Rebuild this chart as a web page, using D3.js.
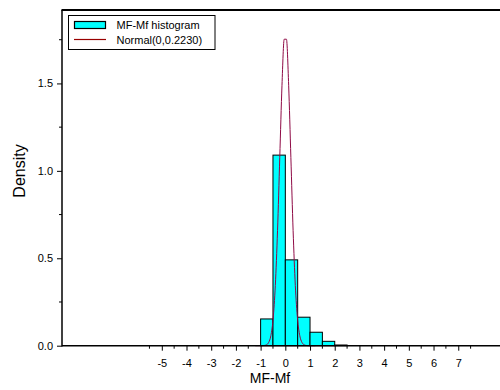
<!DOCTYPE html>
<html><head><meta charset="utf-8">
<script src="https://cdn.jsdelivr.net/npm/d3@7"></script>
<style>body{margin:0;background:#fff}svg{display:block}text{font-family:"Liberation Sans",Arial,sans-serif;fill:#000}</style>
</head><body>
<script>
// Histogram bins (left edges, width 0.5) and densities
const binStarts = [-5.5,-5,-4.5,-4,-3.5,-3,-2.5,-2,-1.5,-1,-0.5,0,0.5,1,1.5,2,2.5,3,3.5,4,4.5,5,5.5,6,6.5,7];
const binDensity = [0,0,0,0,0,0,0,0,0,0.153,1.09,0.491,0.163,0.077,0.025,0.004,0,0,0,0,0,0,0,0,0,0];
const binWidth = 0.5;
// Normal curve parameters from legend
const normMean = 0, normSd = 0.2230;
const xTicks = [-5,-4,-3,-2,-1,0,1,2,3,4,5,6,7];
const xMinor = [-5.5,-4.5,-3.5,-2.5,-1.5,-0.5,0.5,1.5,2.5,3.5,4.5,5.5,6.5,7.5];
const yTicks = [0,0.5,1.0,1.5];
const yMinor = [0.25,0.75,1.25,1.75];
const legendLabels = ["MF-Mf histogram","Normal(0,0.2230)"];

const W=500,H=390;
const svg=d3.select("body").append("svg").attr("width",W).attr("height",H);
const x=d3.scaleLinear().domain([-9.04,8.69]).range([62,500]);
const y=d3.scaleLinear().domain([0,1.92]).range([345.7,10]);

// bars
svg.append("g").selectAll("rect").data(binStarts.map((s,i)=>({s,d:binDensity[i]}))).join("rect")
  .attr("x",d=>x(d.s)).attr("width",d=>x(d.s+binWidth)-x(d.s))
  .attr("y",d=>y(d.d)).attr("height",d=>y(0)-y(d.d))
  .attr("fill","#00ffff").attr("stroke","#000").attr("stroke-width",1);

// normal curve, sampled
const xs=d3.range(-1.215,1.2151,0.09);
const pdf=v=>Math.exp(-0.5*((v-normMean)/normSd)**2)/(normSd*Math.sqrt(2*Math.PI));
svg.append("path").datum(xs).attr("fill","none").attr("stroke","#8f0a45").attr("stroke-width",1)
  .attr("d",d3.line().x(v=>x(v)).y(v=>y(pdf(v))).curve(d3.curveMonotoneX));

// x axis
const xa=svg.append("g").attr("transform",`translate(0,${y(0)})`);
xa.call(d3.axisBottom(x).tickValues(xTicks).tickSize(5).tickFormat(d=>String(d)));
xa.select(".domain").remove();
xa.selectAll("text").attr("font-size",11).attr("font-family","Liberation Sans, Arial, sans-serif").attr("dy","1.25em");
xa.append("g").selectAll("line").data(xMinor).join("line").attr("x1",d=>x(d)).attr("x2",d=>x(d)).attr("y1",0).attr("y2",3).attr("stroke","#000");
svg.append("line").attr("x1",62).attr("x2",500).attr("y1",y(0)).attr("y2",y(0)).attr("stroke","#000").attr("stroke-width",1.5);

// y axis
const ya=svg.append("g").attr("transform","translate(62,0)");
ya.call(d3.axisLeft(y).tickValues(yTicks).tickSize(5).tickFormat(d3.format(".1f")));
ya.select(".domain").remove();
ya.selectAll("text").attr("font-size",11).attr("font-family","Liberation Sans, Arial, sans-serif").attr("x",-9);
ya.append("g").selectAll("line").data(yMinor).join("line").attr("y1",d=>y(d)).attr("y2",d=>y(d)).attr("x1",0).attr("x2",-3).attr("stroke","#000");
svg.append("line").attr("x1",62).attr("x2",62).attr("y1",10).attr("y2",y(0)+0.75).attr("stroke","#000").attr("stroke-width",1.5);
svg.append("line").attr("x1",61.5).attr("x2",500).attr("y1",10).attr("y2",10).attr("stroke","#000").attr("stroke-width",2);

// axis titles
svg.append("text").attr("x",270).attr("y",383).attr("text-anchor","middle").attr("font-size",14).text("MF-Mf");
svg.append("text").attr("transform","translate(25,171) rotate(-90)").attr("text-anchor","middle").attr("font-size",16).text("Density");

// legend
const lg=svg.append("g");
lg.append("rect").attr("x",68.5).attr("y",15.5).attr("width",146.5).attr("height",34).attr("fill","#fff").attr("stroke","#000");
lg.append("rect").attr("x",74.5).attr("y",21.5).attr("width",31).attr("height",7).attr("fill","#00ffff").attr("stroke","#000").attr("stroke-width",1.2);
lg.append("line").attr("x1",74).attr("x2",106).attr("y1",39.5).attr("y2",39.5).attr("stroke","#990000").attr("stroke-width",1.2);
lg.selectAll("text.l").data(legendLabels).join("text").attr("class","l").attr("x",116.5).attr("y",(d,i)=>29+i*14.5).attr("font-size",11).text(d=>d);
</script>
</body></html>
